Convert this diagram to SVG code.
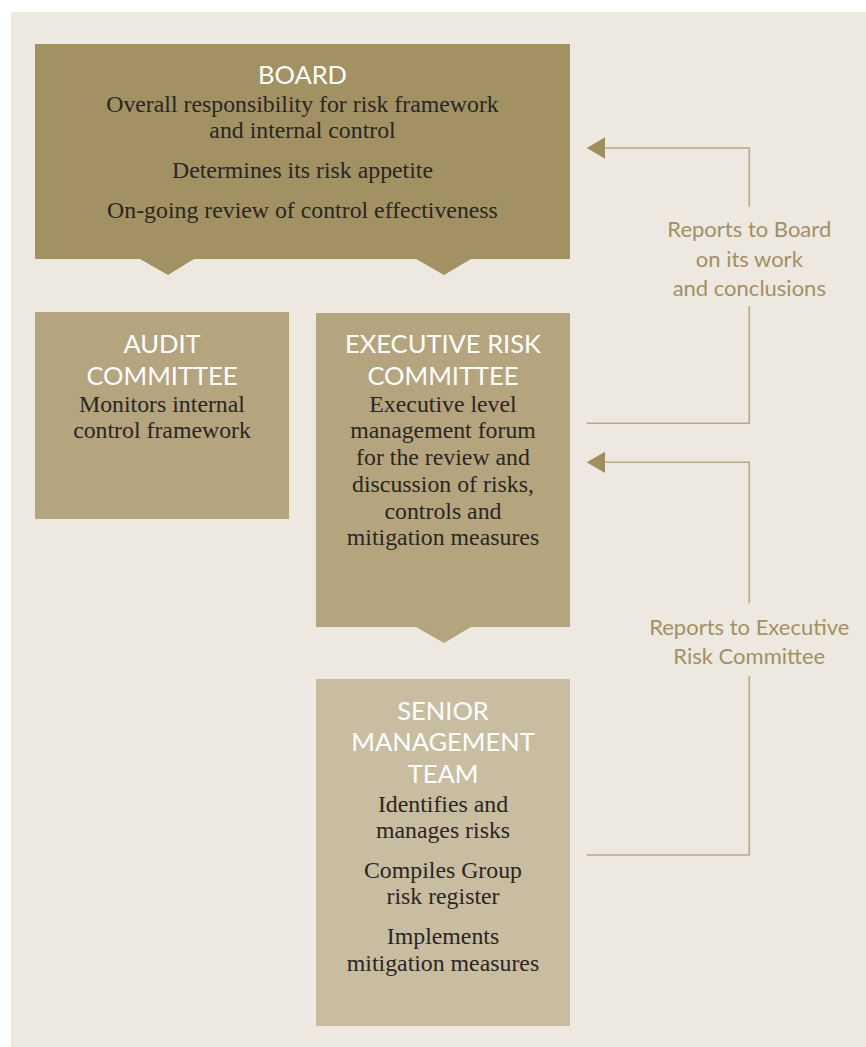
<svg xmlns="http://www.w3.org/2000/svg" width="866" height="1047" viewBox="0 0 866 1047">
<defs>
<style>
.title{font-family:Lato,"Liberation Sans",sans-serif;font-size:25.5px;fill:#ffffff;text-anchor:middle}
.body{font-family:"Liberation Serif",serif;font-size:23.8px;fill:#2a2622;text-anchor:middle}
.lbl{font-family:Lato,"Liberation Sans",sans-serif;font-size:22px;fill:#a39063;text-anchor:middle}
.conn{fill:none;stroke:#b9a982;stroke-width:1.6}
.head{fill:#a08e5e}
</style>
</defs>
<rect x="11" y="12" width="855" height="1035" fill="#ede9e0"/>
<g id="board">
<path d="M35,44 H570 V259 H471 L444,275 L416,259 H194 L168,275 L140,259 H35 Z" fill="#a29162"/>
<text class="title" x="302.5" y="84">BOARD</text>
<text class="body" x="302.5" y="111.5">Overall responsibility for risk framework</text>
<text class="body" x="302.5" y="137.5">and internal control</text>
<text class="body" x="302.5" y="177.5">Determines its risk appetite</text>
<text class="body" x="302.5" y="217.5">On-going review of control effectiveness</text>
</g>
<g id="audit">
<rect x="35" y="312" width="254" height="207" fill="#b5a57e"/>
<text class="title" x="162" y="353">AUDIT</text>
<text class="title" x="162" y="385">COMMITTEE</text>
<text class="body" x="162" y="411.5">Monitors internal</text>
<text class="body" x="162" y="438">control framework</text>
</g>
<g id="exec">
<path d="M316,313 H570 V627 H471 L444,643 L416,627 H316 Z" fill="#b5a57e"/>
<text class="title" x="443" y="353">EXECUTIVE RISK</text>
<text class="title" x="443" y="385">COMMITTEE</text>
<text class="body" x="443" y="411.5">Executive level</text>
<text class="body" x="443" y="438.2">management forum</text>
<text class="body" x="443" y="465">for the review and</text>
<text class="body" x="443" y="491.7">discussion of risks,</text>
<text class="body" x="443" y="518.5">controls and</text>
<text class="body" x="443" y="545.2">mitigation measures</text>
</g>
<g id="senior">
<rect x="316" y="679" width="254" height="347" fill="#c9bda1"/>
<text class="title" x="443" y="720">SENIOR</text>
<text class="title" x="443" y="751">MANAGEMENT</text>
<text class="title" x="443" y="783">TEAM</text>
<text class="body" x="443" y="811.5">Identifies and</text>
<text class="body" x="443" y="837.5">manages risks</text>
<text class="body" x="443" y="878">Compiles Group</text>
<text class="body" x="443" y="904">risk register</text>
<text class="body" x="443" y="944">Implements</text>
<text class="body" x="443" y="970.5">mitigation measures</text>
</g>
<g id="connectors">
<path class="conn" d="M586.7,423.3 H749.3 V306"/>
<path class="conn" d="M749.3,206.7 V148 H603"/>
<polygon class="head" points="586.7,148 605,137.3 605,158.7"/>
<path class="conn" d="M586.7,855 H749.3 V676"/>
<path class="conn" d="M749.3,603.3 V462.3 H603"/>
<polygon class="head" points="586.7,462.3 605,451.7 605,473"/>
</g>
<g id="labels">
<text class="lbl" x="749.3" y="236.5">Reports to Board</text>
<text class="lbl" x="749.3" y="266.5">on its work</text>
<text class="lbl" x="749.3" y="295.5">and conclusions</text>
<text class="lbl" x="749.3" y="635">Reports to Executive</text>
<text class="lbl" x="749.3" y="664.3">Risk Committee</text>
</g>
</svg>
